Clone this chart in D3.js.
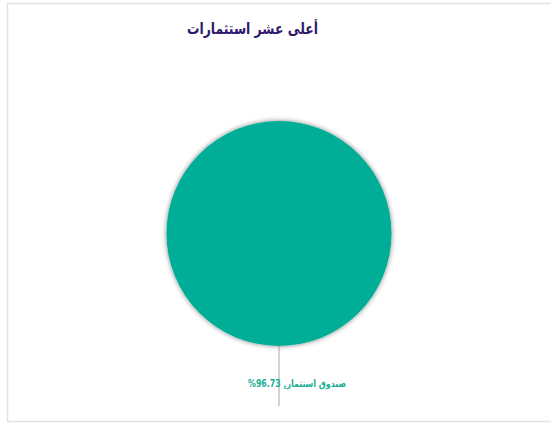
<!DOCTYPE html>
<html>
<head>
<meta charset="utf-8">
<script src="https://cdn.jsdelivr.net/npm/d3@7"></script>
<style>
  html, body { margin: 0; padding: 0; background: #fff; }
  svg { display: block; }
</style>
</head>
<body>
<svg id="chart" width="551" height="423"></svg>
<script>
const titleText = "أعلى عشر استثمارات";
const categories = ["صندوق استثمار"];
const values = [96.73];
const sliceColors = ["#00AD96"];

const W = 551, H = 423;
const svg = d3.select("#chart");

// frame
svg.append("rect")
  .attr("x", 7.5).attr("y", 3.5)
  .attr("width", 560).attr("height", 418)
  .attr("fill", "#fff")
  .attr("stroke", "#e3e3e3").attr("stroke-width", 1.5);

const defs = svg.append("defs");
const f = defs.append("filter").attr("id", "sh")
  .attr("x", "-20%").attr("y", "-20%").attr("width", "140%").attr("height", "140%");
f.append("feGaussianBlur").attr("in", "SourceAlpha").attr("stdDeviation", 2.4).attr("result", "b");
f.append("feFlood").attr("flood-color", "#000").attr("flood-opacity", 0.5).attr("result", "c");
f.append("feComposite").attr("in", "c").attr("in2", "b").attr("operator", "in").attr("result", "s");
const m = f.append("feMerge");
m.append("feMergeNode").attr("in", "s");
m.append("feMergeNode").attr("in", "SourceGraphic");

// title
svg.append("text")
  .attr("x", 252.5).attr("y", 34)
  .attr("text-anchor", "middle")
  .attr("direction", "rtl")
  .attr("font-family", "DejaVu Sans, sans-serif")
  .attr("font-weight", "bold")
  .attr("font-size", 15.5)
  .attr("textLength", 131)
  .attr("lengthAdjust", "spacingAndGlyphs")
  .attr("fill", "#2D1A6E")
  .text(titleText);

const cx = 279, cy = 233.5, r = 112.5;
const data = categories.map((c, i) => ({ cat: c, val: values[i] }));
const pie = d3.pie().sort(null).value(d => d.val);
const arcs = pie(data);
const arc = d3.arc().innerRadius(0).outerRadius(r);
const color = d3.scaleOrdinal().domain(categories).range(sliceColors);

const g = svg.append("g").attr("transform", `translate(${cx},${cy})`);
g.selectAll("path.slice").data(arcs).join("path")
  .attr("class", "slice")
  .attr("d", arc)
  .attr("fill", d => color(d.data.cat))
  .attr("filter", "url(#sh)");

// leader line and label
const lineStart = d3.arc().innerRadius(r).outerRadius(r);
const lineEnd = d3.arc().innerRadius(r + 60).outerRadius(r + 60);
g.selectAll("line.leader").data(arcs).join("line")
  .attr("class", "leader")
  .attr("x1", d => lineStart.centroid(d)[0])
  .attr("y1", d => lineStart.centroid(d)[1])
  .attr("x2", d => lineEnd.centroid(d)[0])
  .attr("y2", d => lineEnd.centroid(d)[1])
  .attr("stroke", "#a6a6a6").attr("stroke-width", 1);

const labelArc = d3.arc().innerRadius(r + 40).outerRadius(r + 40);
g.selectAll("text.lbl").data(arcs).join("text")
  .attr("class", "lbl")
  .attr("x", d => labelArc.centroid(d)[0] + 18)
  .attr("y", d => labelArc.centroid(d)[1] + 1)
  .attr("text-anchor", "middle")
  .attr("direction", "rtl")
  .attr("font-family", "DejaVu Sans, sans-serif")
  .attr("font-weight", "bold")
  .attr("font-size", 10)
  .attr("textLength", 98)
  .attr("lengthAdjust", "spacingAndGlyphs")
  .attr("fill", "#1BAE96")
  .text(d => `${d.data.cat}, ${d.data.val.toFixed(2)}%`);
</script>
</body>
</html>
